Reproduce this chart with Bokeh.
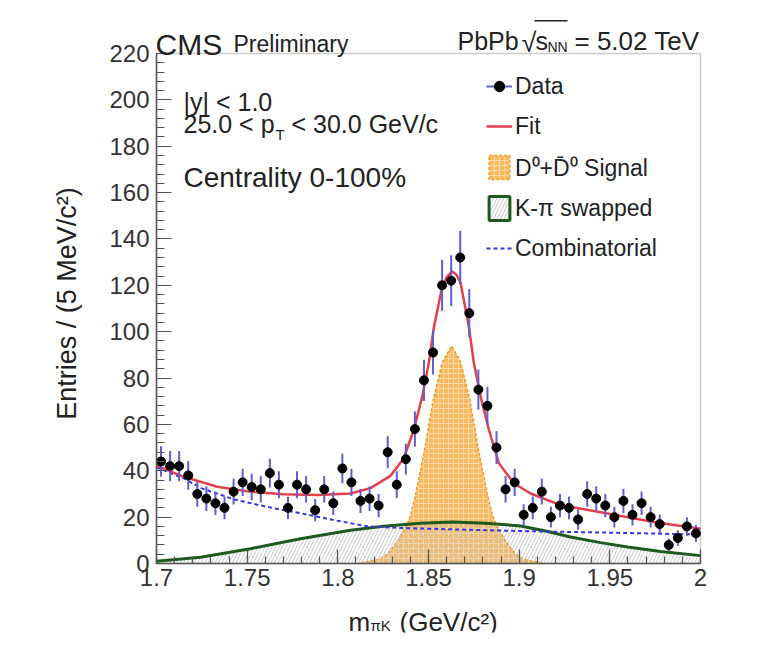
import math
from bokeh.plotting import figure
from bokeh.models import Label, Legend, LegendItem, FixedTicker, NumeralTickFormatter, BoxAnnotation
from bokeh.embed import file_html
from bokeh.resources import INLINE

# ---------------- data ----------------
mass = [1.7025, 1.7075, 1.7125, 1.7175, 1.7225, 1.7275, 1.7325, 1.7375, 1.7425, 1.7475,
        1.7525, 1.7575, 1.7625, 1.7675, 1.7725, 1.7775, 1.7825, 1.7875, 1.7925, 1.7975,
        1.8025, 1.8075, 1.8125, 1.8175, 1.8225, 1.8275, 1.8325, 1.8375, 1.8425, 1.8475,
        1.8525, 1.8575, 1.8625, 1.8675, 1.8725, 1.8775, 1.8825, 1.8875, 1.8925, 1.8975,
        1.9025, 1.9075, 1.9125, 1.9175, 1.9225, 1.9275, 1.9325, 1.9375, 1.9425, 1.9475,
        1.9525, 1.9575, 1.9625, 1.9675, 1.9725, 1.9775, 1.9825, 1.9875, 1.9925, 1.9975]
counts = [44, 42, 42, 38, 30, 28, 26, 24, 31, 35,
          33, 32, 39, 34, 24, 34, 32, 23, 32, 26,
          41, 35, 27, 28, 25, 48, 34, 45, 58, 79,
          91, 120, 122, 132, 108, 75, 68, 50, 32, 35,
          21, 24, 31, 20, 25, 24, 19, 30, 28, 25,
          20, 27, 21, 26, 20, 17, 8, 11, 16, 13]
errors = [6.6, 6.5, 6.5, 6.2, 5.5, 5.3, 5.1, 4.9, 5.6, 5.9,
          5.7, 5.7, 6.2, 5.8, 4.9, 5.8, 5.7, 4.8, 5.7, 5.1,
          6.4, 5.9, 5.2, 5.3, 5.0, 6.9, 5.8, 6.7, 7.6, 8.9,
          9.5, 11.0, 11.0, 11.5, 10.4, 8.7, 8.2, 7.1, 5.7, 5.9,
          4.6, 4.9, 5.6, 4.5, 5.0, 4.9, 4.4, 5.5, 5.3, 5.0,
          4.5, 5.2, 4.6, 5.1, 4.5, 4.1, 2.8, 3.3, 4.0, 3.6]

fit_mass = [1.700, 1.715, 1.7335, 1.752, 1.770, 1.789, 1.807, 1.818, 1.829, 1.8364,
            1.8419, 1.8466, 1.8502, 1.853, 1.8572, 1.860, 1.8631, 1.8655, 1.8677, 1.8723,
            1.875, 1.8787, 1.8833, 1.8888, 1.8971, 1.9063, 1.9228, 1.9488, 1.9741, 2.000]
fit_vals = [42.2, 37.4, 33.1, 30.9, 29.9, 29.5, 30.2, 32.5, 37.8, 45.4,
            57.7, 72.2, 86.6, 102.0, 118.0, 123.5, 126.0, 124.5, 121.0, 102.0,
            86.6, 72.2, 57.7, 43.3, 34.6, 30.2, 25.2, 21.6, 17.9, 15.0]

sig_mass = [1.8127, 1.8227, 1.8277, 1.8327, 1.8377, 1.8402, 1.8427, 1.8477, 1.8527, 1.8577,
            1.8627, 1.8677, 1.8727, 1.8777, 1.8827, 1.8852, 1.8877, 1.8927, 1.8977, 1.9027, 1.9127]
sig_vals = [0.3, 1.8, 4.2, 9.5, 16.0, 21.0, 29.0, 48.5, 71.0, 87.0,
            93.8, 87.0, 71.0, 48.5, 29.0, 21.0, 16.0, 9.5, 4.2, 1.8, 0.3]

swap_mass = [1.700, 1.7243, 1.7518, 1.7794, 1.807, 1.8252, 1.8456, 1.8633,
             1.8815, 1.9008, 1.9146, 1.9283, 1.9449, 1.9598, 1.978, 2.000]
swap_vals = [1.0, 2.7, 6.4, 10.7, 14.3, 16.1, 17.4, 17.9,
             17.4, 16.2, 14.0, 11.4, 9.0, 7.1, 5.2, 3.4]

comb_mass = [1.700, 1.715, 1.725, 1.743, 1.761, 1.780, 1.798, 1.816, 1.835, 1.860, 1.900, 1.950, 2.000]
comb_vals = [41.5, 36.7, 32.4, 27.6, 24.4, 21.6, 18.7, 16.1, 15.3, 14.8, 14.0, 13.3, 12.5]

x_ticks = [1.7, 1.75, 1.8, 1.85, 1.9, 1.95, 2.0]
x_minor = [1.70, 1.71, 1.72, 1.73, 1.74, 1.75, 1.76, 1.77, 1.78, 1.79, 1.80,
           1.81, 1.82, 1.83, 1.84, 1.85, 1.86, 1.87, 1.88, 1.89, 1.90,
           1.91, 1.92, 1.93, 1.94, 1.95, 1.96, 1.97, 1.98, 1.99, 2.00]
y_ticks = [0, 20, 40, 60, 80, 100, 120, 140, 160, 180, 200, 220]
y_minor = list(range(0, 221, 4))
x_lim = (1.7, 2.0)
y_lim = (0, 220)

legend_labels = ["Data", "Fit", "D\u2070+D\u0304\u2070 Signal", "K-\u03c0 swapped", "Combinatorial"]

# ---------------- layout geometry (pixels) ----------------
# plotting box: x 1.7 -> px 156, 2.0 -> px 700 ; y 0 -> px 563, 220 -> px 53
BOX_L, BOX_R, BOX_T, BOX_B = 156, 700, 53, 563
PXX = (BOX_R - BOX_L) / (x_lim[1] - x_lim[0])
PXY = (BOX_B - BOX_T) / (y_lim[1] - y_lim[0])
# the frame is larger than the box so that header and axis titles are drawn inside it
FR_L, FR_R, FR_T, FR_B = 50, 712, 5, 632


def dx(X):
    return x_lim[0] + (X - BOX_L) / PXX


def dy(Y):
    return y_lim[0] + (BOX_B - Y) / PXY


FONT = "Liberation Sans"
TXT = "#222222"
AX = "#555555"

p = figure(width=770, height=670,
           x_range=(dx(FR_L), dx(FR_R)), y_range=(dy(FR_B), dy(FR_T)),
           output_backend="svg", toolbar_location=None,
           min_border_left=FR_L, min_border_right=770 - FR_R,
           min_border_top=FR_T, min_border_bottom=670 - FR_B)
p.background_fill_color = "white"
p.border_fill_color = "white"
p.xgrid.visible = False
p.ygrid.visible = False
p.outline_line_color = None

ORANGE = "#f7ad45"
ORANGE_LINE = "#ee9a24"
GREEN = "#1d5a1d"
BLUE = "#3535dd"
RED = "#e4404c"
ERR = "#5f5fd0"
HATCH_GREY = "#c6c6c6"

sig_area = p.varea(x=sig_mass, y1=[0] * len(sig_mass), y2=sig_vals,
                   fill_color=ORANGE, fill_alpha=0.85,
                   hatch_pattern="+", hatch_color="#fcd8a2", hatch_scale=5, hatch_weight=1)
p.line(sig_mass, sig_vals, line_color=ORANGE_LINE, line_width=1.5, line_dash="3 2")

swap_area = p.varea(x=swap_mass, y1=[0] * len(swap_mass), y2=swap_vals,
                    fill_color=None, fill_alpha=0,
                    hatch_pattern="/", hatch_color=HATCH_GREY, hatch_scale=7, hatch_weight=1)
swap_line = p.line(swap_mass, swap_vals, line_color=GREEN, line_width=3)

comb_line = p.line(comb_mass, comb_vals, line_color=BLUE, line_width=2, line_dash="4 3")
fit_line = p.line(fit_mass, fit_vals, line_color=RED, line_width=2.5)

lo = [c - e for c, e in zip(counts, errors)]
hi = [c + e for c, e in zip(counts, errors)]
err_r = p.segment(x0=mass, y0=lo, x1=mass, y1=hi, line_color=ERR, line_width=2)
dots = p.scatter(mass, counts, size=9, color="black")

# plotting box
p.add_layout(BoxAnnotation(left=x_lim[0], right=x_lim[1], bottom=y_lim[0], top=y_lim[1],
                           fill_alpha=0, line_color=AX, line_width=1.5))

# legend-only swatches (one undrawn NaN row so the legend has style values)
NAN = float("nan")
sig_leg = p.quad(left=[NAN], right=[NAN], bottom=[NAN], top=[NAN], fill_color=ORANGE, fill_alpha=0.85,
                 hatch_pattern="+", hatch_color="#fcd8a2", hatch_scale=5, hatch_weight=1,
                 line_color=ORANGE_LINE, line_width=1.5, line_dash="3 2")
swap_leg = p.quad(left=[NAN], right=[NAN], bottom=[NAN], top=[NAN], fill_color="white",
                  hatch_pattern="/", hatch_color=HATCH_GREY, hatch_scale=7, hatch_weight=1,
                  line_color=GREEN, line_width=3)

LEG_TOP = 73
legend = Legend(items=[
    LegendItem(label=legend_labels[0], renderers=[err_r, dots]),
    LegendItem(label=legend_labels[1], renderers=[fit_line]),
    LegendItem(label=legend_labels[2], renderers=[sig_leg]),
    LegendItem(label=legend_labels[3], renderers=[swap_leg]),
    LegendItem(label=legend_labels[4], renderers=[comb_line]),
], location=(486 - FR_L, FR_B - LEG_TOP - 5 * 30 - 4 * 10), orientation="vertical",
    glyph_width=26, glyph_height=30, label_height=30, spacing=10, padding=0, margin=0,
    label_standoff=3, label_text_font=FONT, label_text_font_size="23px", label_text_color=TXT,
    background_fill_alpha=0, border_line_alpha=0)
p.add_layout(legend)

# ---------------- axes (drawn on the box edges) ----------------
p.xaxis.ticker = FixedTicker(ticks=x_ticks, minor_ticks=x_minor)
p.yaxis.ticker = FixedTicker(ticks=y_ticks, minor_ticks=y_minor)
p.xaxis.formatter = NumeralTickFormatter(format="0.[00]")
p.xaxis.fixed_location = y_lim[0]
p.yaxis.fixed_location = x_lim[0]
p.xaxis.bounds = x_lim
p.yaxis.bounds = y_lim
for ax in (p.xaxis, p.yaxis):
    ax.axis_label = None
    ax.axis_label_standoff = 0
    ax.axis_line_color = AX
    ax.axis_line_width = 1.5
    ax.major_tick_line_color = AX
    ax.minor_tick_line_color = AX
    ax.major_tick_line_width = 1.2
    ax.minor_tick_line_width = 1.2
    ax.major_tick_out = 0
    ax.minor_tick_out = 0
    ax.major_label_text_font = FONT
    ax.major_label_text_font_size = "24px"
    ax.major_label_text_color = "#333333"
p.xaxis.major_tick_in = 14
p.xaxis.minor_tick_in = 7
p.yaxis.major_tick_in = 15
p.yaxis.minor_tick_in = 8
p.xaxis.major_label_standoff = 5
p.yaxis.major_label_standoff = 7


# ---------------- texts (placed at page pixels, converted to data units) ----------------
def txt(s, X, Y, size, align="left", baseline="alphabetic", angle=0.0):
    p.add_layout(Label(x=dx(X), y=dy(Y), text=s, text_font=FONT, text_font_size=size,
                       text_color=TXT, text_align=align, text_baseline=baseline, angle=angle))


# y-axis title (rotated)
txt("Entries / (5 MeV/c\u00b2)", 66, 303, "27px", align="center", baseline="middle", angle=math.pi / 2)

# header
txt("CMS", 155, 43.5, "30px")
txt("Preliminary", 233, 43.5, "23px")
txt("PbPb", 457, 40, "25px")
txt("\u221a", 521, 42, "27px")
txt("s", 535, 40, "25px")
txt("NN", 547, 46, "14px")
txt("= 5.02 TeV", 574, 40, "26px")
p.add_layout(BoxAnnotation(left=dx(534), right=dx(567), top=dy(19.6), bottom=dy(20.9),
                           fill_color=TXT, fill_alpha=1, line_alpha=0))

# selection texts
txt("|y| < 1.0", 183, 101.5, "25px")
txt("25.0 < p", 183, 123.5, "25px")
txt("T", 275, 134, "15px")
txt("< 30.0 GeV/c", 291, 123.5, "25px")
txt("Centrality 0-100%", 183, 176.5, "28px")

# x-axis title
txt("m", 348, 621, "26px")
txt("\u03c0K", 370, 625, "15px")
txt("(GeV/c\u00b2)", 399, 621, "26px")

open("out.html", "w").write(file_html(p, INLINE))
